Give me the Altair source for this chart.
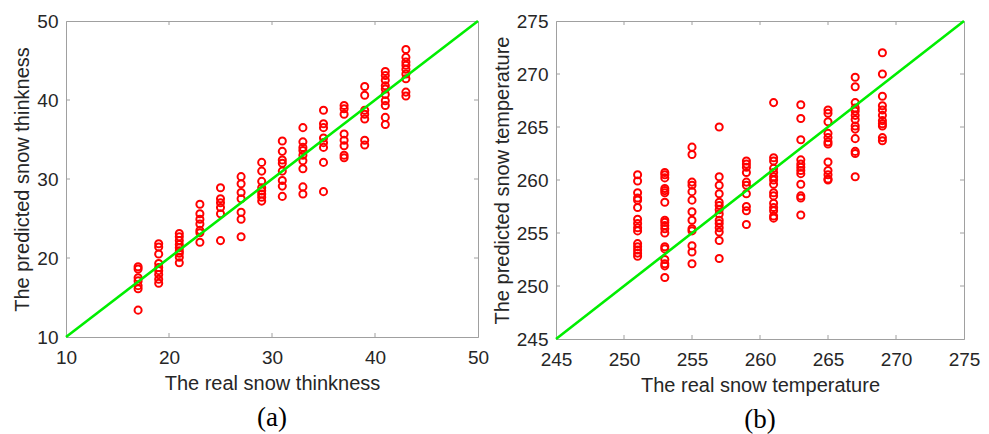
import altair as alt
import pandas as pd

# ---------------- data ----------------
thick_cols = [17, 19, 21, 23, 25, 27, 29, 31, 33, 35, 37, 39, 41, 43]
thick_pred = [
    [18.9, 18.6, 17.5, 17.1, 16.5, 16.1, 13.4],
    [21.8, 21.4, 20.5, 19.3, 18.8, 18.4, 17.9, 17.3, 16.8],
    [23.1, 22.7, 22.2, 21.7, 21.3, 20.9, 20.6, 20.1, 19.4],
    [26.8, 25.6, 24.9, 24.3, 23.5, 23.2, 22.0],
    [28.9, 27.5, 27.0, 26.4, 25.6, 22.2],
    [30.3, 29.4, 28.3, 27.5, 25.8, 24.9, 22.7],
    [32.1, 31.0, 29.7, 28.9, 28.5, 28.1, 27.7, 27.2],
    [34.8, 33.5, 32.4, 32.0, 31.0, 29.8, 29.1, 27.8],
    [36.5, 34.7, 34.0, 33.6, 33.0, 32.3, 31.3, 29.0, 28.1],
    [38.7, 37.0, 36.5, 35.2, 34.6, 34.0, 32.1, 28.4],
    [39.3, 38.9, 38.2, 35.7, 34.9, 34.2, 33.0, 32.7],
    [41.7, 40.6, 38.7, 38.2, 37.6, 34.9, 34.3],
    [43.6, 43.1, 42.5, 41.8, 41.4, 40.7, 39.9, 39.3, 37.8, 36.9],
    [46.4, 45.4, 44.8, 44.4, 43.9, 43.3, 42.7, 41.0, 40.5],
]
temp_cols = [251, 253, 255, 257, 259, 261, 263, 265, 267, 269]
temp_pred = [
    [260.5, 259.9, 258.8, 258.3, 258.1, 257.4, 256.3, 255.9, 255.5, 255.2, 254.0, 253.7, 253.4, 253.1, 252.8],
    [260.7, 260.5, 260.2, 259.2, 259.0, 258.8, 257.9, 256.2, 256.0, 255.7, 255.4, 255.0, 253.7, 253.5, 252.5, 252.1, 251.9, 250.8],
    [263.1, 262.4, 259.8, 259.5, 258.9, 258.1, 257.0, 256.2, 255.4, 255.2, 253.8, 253.2, 252.1],
    [265.0, 260.3, 259.5, 258.7, 257.9, 257.6, 257.2, 256.8, 256.2, 255.9, 255.5, 255.1, 254.3, 252.6],
    [261.8, 261.5, 261.2, 260.7, 259.8, 259.5, 258.7, 257.5, 257.1, 255.8],
    [267.3, 262.1, 261.8, 261.1, 260.7, 260.3, 260.0, 259.6, 258.8, 258.5, 257.8, 257.4, 257.1, 256.6, 256.4],
    [267.1, 265.8, 263.8, 261.9, 261.5, 261.2, 260.9, 260.6, 259.6, 258.5, 258.3, 256.7],
    [266.6, 266.3, 265.5, 264.4, 264.0, 263.6, 263.4, 261.7, 260.9, 260.5, 260.1, 260.0],
    [269.7, 268.8, 267.3, 266.8, 266.5, 266.1, 265.7, 265.1, 264.8, 263.9, 262.7, 262.5, 260.3],
    [272.0, 270.0, 267.9, 267.0, 266.6, 266.1, 265.6, 265.3, 265.1, 264.0, 263.7],
]
thick_ticks = [10, 20, 30, 40, 50]
temp_ticks = [245, 250, 255, 260, 265, 270, 275]
thick_diag = [10, 50]
temp_diag = [245, 275]

AXIS_GRAY = "#a0a0a0"
TEXT = "#262626"


def panel(cols, preds, ticks, diag, xtitle, ytitle, caption, W, H):
    pts = pd.DataFrame(
        [{"real": c, "pred": v} for c, vs in zip(cols, preds) for v in vs]
    )
    line_df = pd.DataFrame({"real": diag, "pred": diag})
    inner = ticks[1:-1]
    tick_x = pd.DataFrame({"real": inner})
    tick_y = pd.DataFrame({"pred": inner})
    dom = [ticks[0], ticks[-1]]
    xs = alt.Scale(domain=dom, nice=False, zero=False)
    ys = alt.Scale(domain=dom, nice=False, zero=False)

    def X():
        return alt.X("real:Q", scale=xs, title=xtitle,
                     axis=alt.Axis(values=ticks, format="d"))

    def Y():
        return alt.Y("pred:Q", scale=ys, title=ytitle,
                     axis=alt.Axis(values=ticks, format="d"))

    points = alt.Chart(pts).mark_point(
        shape="circle", filled=False, color="#ff0000", size=50, strokeWidth=2, opacity=1
    ).encode(x=X(), y=Y())
    line = alt.Chart(line_df).mark_line(color="#00ee00", strokeWidth=2.6).encode(
        x=X(), y=Y())
    top = alt.Chart(tick_x).mark_rule(color=AXIS_GRAY).encode(
        x=X(), y=alt.value(0), y2=alt.value(4))
    bot = alt.Chart(tick_x).mark_rule(color=AXIS_GRAY).encode(
        x=X(), y=alt.value(H), y2=alt.value(H - 4))
    lef = alt.Chart(tick_y).mark_rule(color=AXIS_GRAY).encode(
        y=Y(), x=alt.value(0), x2=alt.value(4))
    rig = alt.Chart(tick_y).mark_rule(color=AXIS_GRAY).encode(
        y=Y(), x=alt.value(W), x2=alt.value(W - 4))

    return alt.layer(points, line, top, bot, lef, rig).properties(
        width=W, height=H,
        title=alt.TitleParams(
            caption, orient="bottom", frame="group", anchor="middle",
            font="Liberation Serif", fontSize=27, fontWeight="normal",
            color="black", offset=12,
        ),
    )


left = panel(thick_cols, thick_pred, thick_ticks, thick_diag,
             "The real snow thinkness", "The predicted snow thinkness", "(a)", 412, 316)
right = panel(temp_cols, temp_pred, temp_ticks, temp_diag,
              "The real snow temperature", "The predicted snow temperature", "(b)", 408, 318)

chart = alt.hconcat(left, right, spacing=78, bounds="flush").properties(
    padding={"left": 4, "top": 3, "right": 0, "bottom": 0}
).configure_view(
    stroke=AXIS_GRAY, strokeWidth=1
).configure_axis(
    labelFont="Liberation Sans", labelFontSize=19, labelColor=TEXT,
    titleFont="Liberation Sans", titleFontSize=20, titleFontWeight="normal",
    titleColor=TEXT, domainColor=AXIS_GRAY, grid=False,
    ticks=True, tickSize=0, labelPadding=11, titlePadding=6,
    labelFlush=False, labelOverlap=False,
).configure_axisY(
    labelPadding=8, titlePadding=4,
)

chart.save("out.html", embed_options={"renderer": "svg", "actions": False})
